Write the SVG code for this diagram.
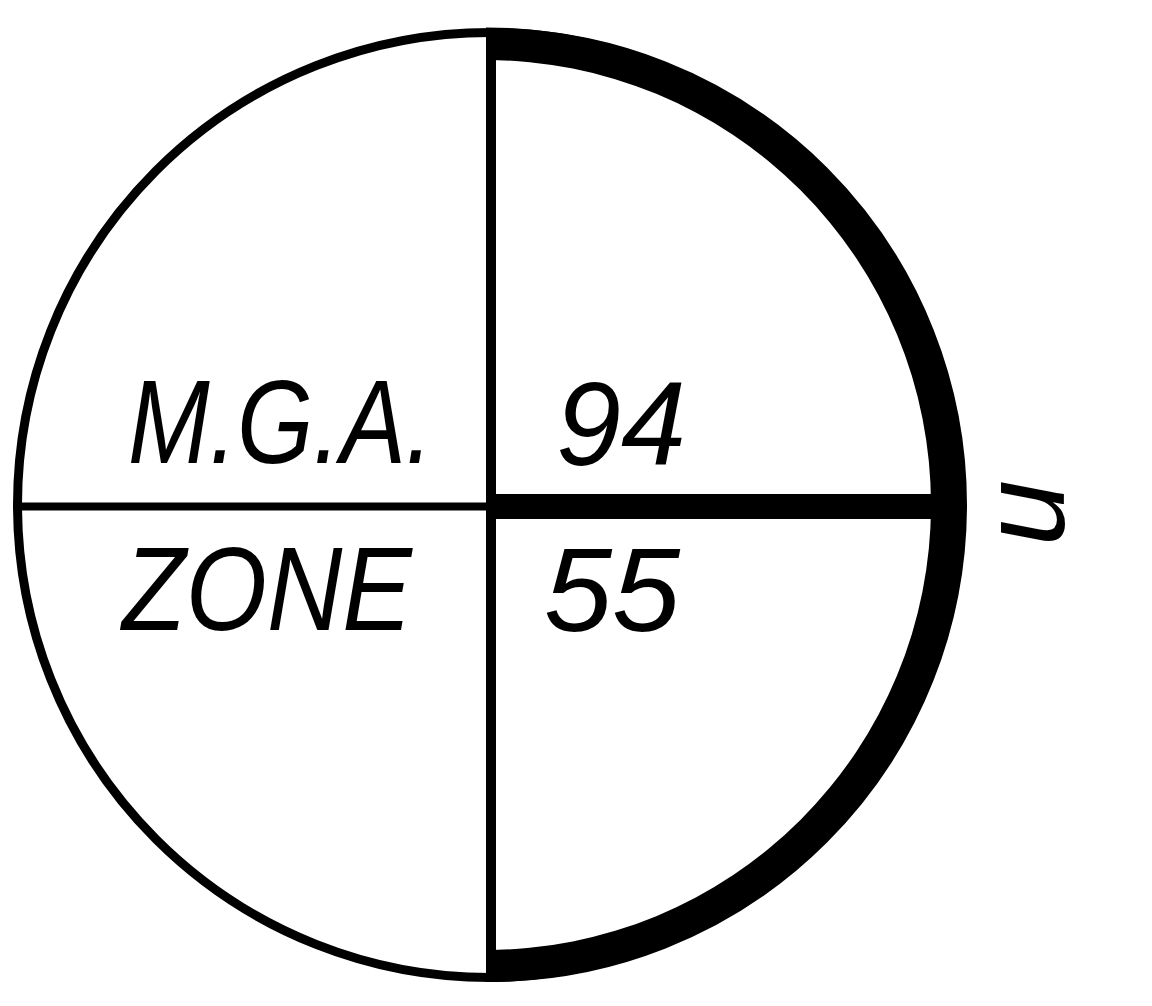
<svg xmlns="http://www.w3.org/2000/svg" width="1152" height="1006" viewBox="0 0 1152 1006">
  <style>
    .thin { fill: none; stroke: #000; stroke-width: 9; }
    .lbl { font-family: "Liberation Sans", Arial, sans-serif; font-style: italic; font-size: 119px; fill: #000; }
  </style>
  <rect width="1152" height="1006" fill="#fff"/>
  <g id="circle">
    <circle class="thin" cx="490" cy="505" r="472.5"/>
    <path d="M 486 27.5 A 477 477 0 0 1 486 982 L 486 950 A 445 445 0 0 0 486 60 Z" fill="#000"/>
  </g>
  <g id="dividers">
    <line x1="491" y1="35" x2="491" y2="975" stroke="#000" stroke-width="10"/>
    <line x1="19" y1="506.5" x2="491" y2="506.5" stroke="#000" stroke-width="8"/>
    <line x1="491" y1="506.5" x2="935" y2="506.5" stroke="#000" stroke-width="25"/>
  </g>
  <g id="labels">
    <text class="lbl" x="128" y="463" textLength="305" lengthAdjust="spacingAndGlyphs">M.G.A.</text>
    <text class="lbl" x="556" y="465" textLength="130" lengthAdjust="spacingAndGlyphs">94</text>
    <text class="lbl" x="122" y="630" textLength="290" lengthAdjust="spacingAndGlyphs">ZONE</text>
    <text class="lbl" x="544" y="631" textLength="136" lengthAdjust="spacingAndGlyphs">55</text>
    <text class="lbl" text-anchor="middle" font-size="135" transform="translate(1064,513) rotate(-90)">u</text>
  </g>
</svg>
